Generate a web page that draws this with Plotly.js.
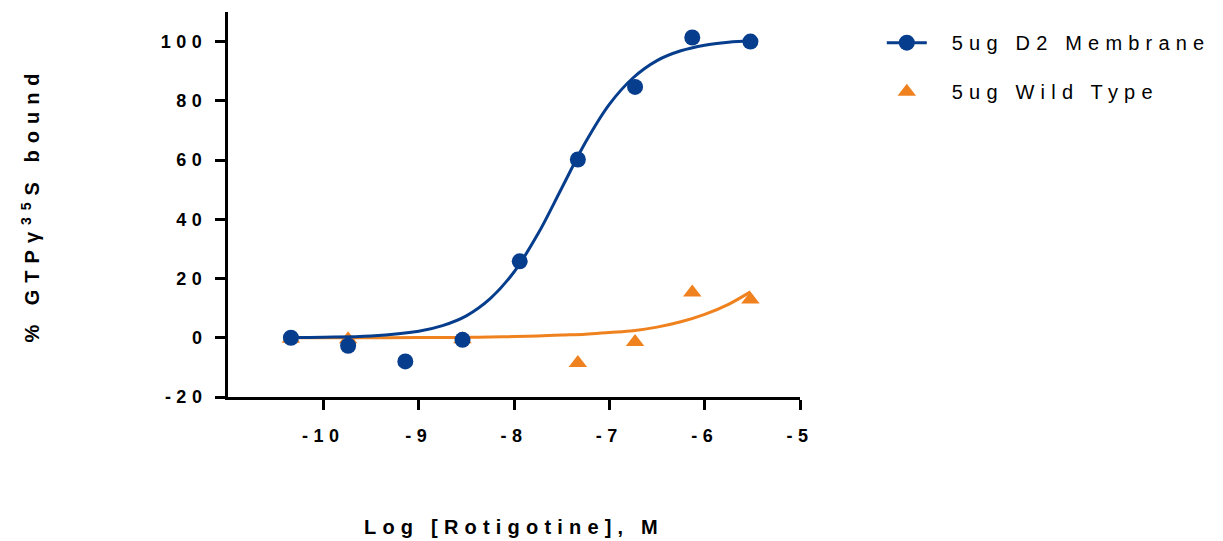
<!DOCTYPE html>
<html>
<head>
<meta charset="utf-8">
<script src="https://cdn.plot.ly/plotly-3.0.1.min.js"></script>
<style>
  html, body { margin: 0; padding: 0; background: #fff; }
  #chart { width: 1223px; height: 541px; }
  .xtick text, .ytick text { letter-spacing: 5.5px; }
  .legendtext { letter-spacing: 6.2px; }
  .g-xtitle text { letter-spacing: 6.2px; }
  .g-ytitle text { letter-spacing: 7px; }
</style>
</head>
<body>
<div id="chart"></div>
<script>
// Log concentrations (M)
const logConc = [-10.34, -9.74, -9.14, -8.54, -7.94, -7.33, -6.73, -6.13, -5.52];
// % GTPγ35S bound, 5ug D2 Membrane
const d2Values = [0, -2.7, -8.0, -0.7, 25.8, 60.2, 84.7, 101.4, 100.0];
// % GTPγ35S bound, 5ug Wild Type (null = not visible)
const wtValues = [-0.3, -0.5, null, -0.5, null, -8.5, -1.4, 15.3, 12.9];

// Fitted curves
const curveX = [-10.34, -10.0, -9.5, -9.0, -8.75, -8.5, -8.25, -8.0, -7.75, -7.5, -7.25, -7.0, -6.75, -6.5, -6.25, -6.0, -5.75, -5.52];
const d2Curve = [0.1, 0.2, 0.6, 2.2, 4.1, 7.4, 13.2, 22.2, 35.0, 50.5, 66.0, 78.8, 87.8, 93.6, 96.9, 98.8, 99.8, 100.3];
const wtCurve = [0, 0, 0.02, 0.05, 0.1, 0.15, 0.25, 0.4, 0.6, 0.9, 1.2, 1.8, 2.4, 3.6, 5.4, 7.9, 11.3, 15.5];

const xTicks = [-10, -9, -8, -7, -6, -5];
const yTicks = [-20, 0, 20, 40, 60, 80, 100];

const seriesNames = ['5ug D2 Membrane', '5ug Wild Type'];
const blue = '#063d8c';
const orange = '#ef821e';

const traces = [
  { x: [null], y: [null], mode: 'lines+markers', name: seriesNames[0], legendgroup: 'a',
    line: { color: blue, width: 3 }, marker: { symbol: 'circle', size: 16, color: blue } },
  { x: curveX, y: wtCurve, mode: 'lines', line: { color: orange, width: 3, shape: 'spline' }, showlegend: false, hoverinfo: 'skip' },
  { x: logConc, y: wtValues, mode: 'markers', name: seriesNames[1], legendgroup: 'b',
    marker: { symbol: 'triangle-up', size: 16, color: orange } },
  { x: curveX, y: d2Curve, mode: 'lines', line: { color: blue, width: 3, shape: 'spline' }, showlegend: false, hoverinfo: 'skip' },
  { x: logConc, y: d2Values, mode: 'markers', showlegend: false,
    marker: { symbol: 'circle', size: 16, color: blue } }
];

const fam = 'Liberation Sans, Arial, sans-serif';
const axisFont = { family: fam, size: 18, color: '#000', weight: 'bold' };
const titleFont = { family: fam, size: 20, color: '#000', weight: 'bold' };

const layout = {
  width: 1223, height: 541,
  margin: { l: 228, r: 423, t: 12, b: 144 },
  paper_bgcolor: '#fff', plot_bgcolor: '#fff',
  font: { family: fam, color: '#000' },
  showlegend: true,
  legend: {
    x: 1.143, y: 0.971, xanchor: 'left', yanchor: 'top',
    traceorder: 'grouped', tracegroupgap: 20,
    font: { family: fam, size: 20, color: '#000' },
    itemwidth: 40
  },
  xaxis: {
    range: [-11, -5], tickvals: xTicks, ticktext: xTicks.map(String),
    showgrid: false, zeroline: false,
    showline: true, linecolor: '#000', linewidth: 3,
    ticks: 'outside', ticklen: 10, tickwidth: 3, tickcolor: '#000',
    tickfont: axisFont, ticklabelstandoff: 10,
    title: { text: 'Log [Rotigotine], M', font: titleFont, standoff: 76 }
  },
  yaxis: {
    range: [-20, 110], tickvals: yTicks, ticktext: yTicks.map(String),
    showgrid: false, zeroline: false,
    showline: true, linecolor: '#000', linewidth: 3,
    ticks: 'outside', ticklen: 10, tickwidth: 3, tickcolor: '#000',
    tickfont: axisFont, ticklabelstandoff: 4,
    title: { text: '% GTPγ<sup>35</sup>S bound', font: titleFont, standoff: 116 }
  }
};

Plotly.newPlot('chart', traces, layout, { displayModeBar: false, staticPlot: true }).then(function () {
  document.querySelectorAll('.legendtext').forEach(function (t) {
    t.setAttribute('transform', 'translate(20,0)');
  });
  document.querySelectorAll('.legend .scrollbox, .legend').forEach(function (g) {
    g.removeAttribute('clip-path');
    g.style.clipPath = 'none';
  });
});
</script>
</body>
</html>
